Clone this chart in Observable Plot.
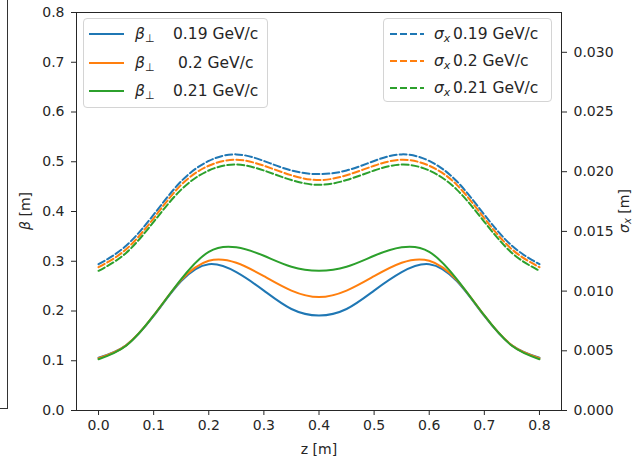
<!DOCTYPE html>
<html><head><meta charset="utf-8">
<script src="https://cdn.jsdelivr.net/npm/d3@7"></script>
<script src="https://cdn.jsdelivr.net/npm/@observablehq/plot@0.6"></script>
<style>
html,body{margin:0;padding:0;background:#fff;}
#wrap{position:relative;width:634px;height:459px;overflow:hidden;font-family:"DejaVu Sans",sans-serif;color:#262626;}
.legend{position:absolute;background:rgba(255,255,255,0.85);border:1px solid #d4d4d4;border-radius:4px;box-sizing:border-box;font-size:15.5px;}
.entry{position:absolute;height:20px;line-height:20px;white-space:nowrap;}
.side{position:absolute;left:-5px;top:-5px;width:13px;height:414px;border-right:1px solid #333;border-bottom:1px solid #333;box-sizing:border-box;}
sub{font-size:11px;vertical-align:-3px;line-height:0;}
</style>
</head><body>
<div id="wrap"><div class="side"></div></div>
<script>
// ---- data ----
const z = [0.00,0.05,0.10,0.15,0.20,0.25,0.30,0.35,0.40,0.45,0.50,0.55,0.60,0.65,0.70,0.75,0.80];
const momenta = ["0.19","0.2","0.21"];
const betaPerp019 = [0.106,0.131,0.190,0.260,0.294,0.278,0.241,0.204,0.191,0.204,0.241,0.278,0.294,0.260,0.190,0.131,0.106];
const betaPerp020 = [0.105,0.131,0.191,0.262,0.301,0.297,0.270,0.241,0.228,0.241,0.270,0.297,0.301,0.262,0.191,0.131,0.105];
const betaPerp021 = [0.103,0.130,0.191,0.264,0.319,0.328,0.311,0.289,0.281,0.289,0.311,0.328,0.319,0.264,0.191,0.130,0.103];
const sigmaX019 = [0.01225,0.0138,0.0164,0.0192,0.0209,0.02145,0.0209,0.0201,0.0198,0.0201,0.0209,0.02145,0.0209,0.0192,0.0164,0.0138,0.01225];
const sigmaX020 = [0.0120,0.0135,0.0161,0.0189,0.0205,0.0210,0.0205,0.0197,0.0193,0.0197,0.0205,0.0210,0.0205,0.0189,0.0161,0.0135,0.0120];
const sigmaX021 = [0.0117,0.0132,0.0158,0.0185,0.0201,0.0206,0.0201,0.0193,0.0189,0.0193,0.0201,0.0206,0.0201,0.0185,0.0158,0.0132,0.0117];
const xTicks = [0,0.1,0.2,0.3,0.4,0.5,0.6,0.7,0.8];
const betaTicks = [0,0.1,0.2,0.3,0.4,0.5,0.6,0.7,0.8];
const sigmaTicks = [0,0.005,0.010,0.015,0.020,0.025,0.030];
const colors = ["#1f77b4","#ff7f0e","#2ca02c"];

// right axis: sigma range [0, 1/30] shares the frame with beta [0, 0.8]
const K = 0.8 / (1/30);

const betaSeries = [betaPerp019, betaPerp020, betaPerp021];
const sigmaSeries = [sigmaX019, sigmaX020, sigmaX021];
const betaRows = [], sigmaRows = [];
momenta.forEach((m, i) => {
  z.forEach((zz, j) => {
    betaRows.push({z: zz, v: betaSeries[i][j], p: m});
    sigmaRows.push({z: zz, v: sigmaSeries[i][j] * K, p: m});
  });
});

const fmt1 = d3.format(".1f"), fmt3 = d3.format(".3f");
const chart = Plot.plot({
  width: 634, height: 459,
  marginLeft: 76, marginRight: 73, marginTop: 12, marginBottom: 49,
  style: {fontFamily: "DejaVu Sans", fontSize: "14px", color: "#262626", background: "transparent"},
  x: {domain: [-0.04, 0.84]},
  y: {domain: [0, 0.8]},
  color: {domain: momenta, range: colors},
  marks: [
    Plot.axisX({ticks: xTicks, tickFormat: fmt1, tickSize: 5, tickPadding: 5, label: null}),
    Plot.axisY({anchor: "left", ticks: betaTicks, tickFormat: fmt1, tickSize: 5, tickPadding: 7, label: null}),
    Plot.axisY({anchor: "right", ticks: sigmaTicks.map(v => v * K), tickFormat: d => fmt3(d / K), tickSize: 5, tickPadding: 7, label: null}),
    Plot.line(betaRows, {x: "z", y: "v", z: "p", stroke: "p", strokeWidth: 2, curve: "natural"}),
    Plot.line(sigmaRows, {x: "z", y: "v", z: "p", stroke: "p", strokeWidth: 2, strokeDasharray: "7,3", curve: "natural"}),
    Plot.frame({stroke: "#262626", strokeWidth: 1}),
    Plot.text(["z [m]"], {frameAnchor: "bottom", dy: 39, text: d => d, lineAnchor: "middle", fontSize: 14})
  ]
});
document.getElementById("wrap").appendChild(chart);

// rotated y-axis labels with math styling
const svg = d3.select(chart);
const yl = svg.append("text").attr("transform", "translate(26,211) rotate(-90)")
  .attr("text-anchor", "middle").attr("dominant-baseline", "middle").attr("fill", "#262626").attr("font-size", 14);
yl.append("tspan").attr("font-style", "italic").text("β");
yl.append("tspan").text(" [m]");
const yr = svg.append("text").attr("transform", "translate(625,211) rotate(-90)")
  .attr("text-anchor", "middle").attr("dominant-baseline", "middle").attr("fill", "#262626").attr("font-size", 14);
yr.append("tspan").attr("font-style", "italic").text("σ");
yr.append("tspan").attr("font-style", "italic").attr("font-size", 10).attr("dy", 3).text("x");
yr.append("tspan").attr("dy", -3).text(" [m]");

// legends
const wrap = document.getElementById("wrap");
function legend(left, top, w, h, rows, dashed, symHtml, symX, numX) {
  const box = document.createElement("div");
  box.className = "legend";
  Object.assign(box.style, {left: left + "px", top: top + "px", width: w + "px", height: h + "px"});
  rows.forEach((r, i) => {
    const e = document.createElement("div");
    e.className = "entry";
    e.style.top = (r.cy - 10) + "px";
    e.style.left = "0px";
    e.style.width = w + "px";
    e.innerHTML =
      `<svg width="42" height="20" style="position:absolute;left:0;top:0"><line x1="${r.lx1}" x2="${r.lx2}" y1="10" y2="10" stroke="${colors[i]}" stroke-width="2" ${dashed ? 'stroke-dasharray="7,3"' : ''}/></svg>` +
      `<span style="position:absolute;left:${symX}px">${symHtml}</span>` +
      `<span style="position:absolute;left:${numX[i]}px">${momenta[i]} GeV/c</span>`;
    box.appendChild(e);
  });
  wrap.appendChild(box);
}
legend(83, 18, 185, 90,
  [{cy: 15, lx1: 5, lx2: 40}, {cy: 44, lx1: 5, lx2: 40}, {cy: 72, lx1: 5, lx2: 40}],
  false, '<i>β</i><sub>⊥</sub>', 51, [89, 94, 89]);
legend(383, 18, 169, 84,
  [{cy: 15, lx1: 6, lx2: 40}, {cy: 42, lx1: 6, lx2: 40}, {cy: 69, lx1: 6, lx2: 40}],
  true, '<i>σ</i><sub><i>x</i></sub>', 50, [69, 69, 69]);
</script>
</body></html>
